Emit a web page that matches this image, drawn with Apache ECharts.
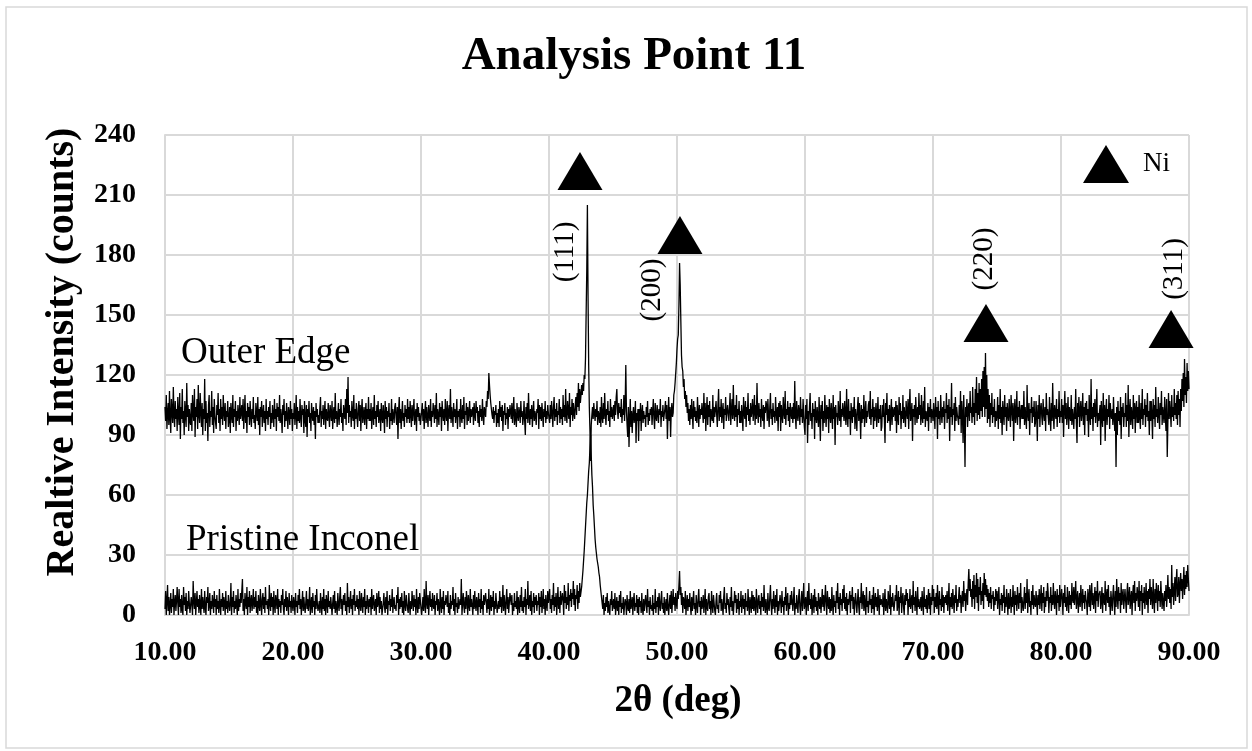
<!DOCTYPE html>
<html>
<head>
<meta charset="utf-8">
<script src="https://cdn.jsdelivr.net/npm/echarts@6/dist/echarts.min.js"></script>
<style>html,body{margin:0;padding:0;background:#fff}#chart{width:1252px;height:751px}</style>
</head>
<body>
<div id="chart"></div>
<script>
// 2θ sampling grid (deg)
const startDeg = 10;
const stepDeg = 0.05;
const xTicks = [10, 20, 30, 40, 50, 60, 70, 80, 90];
const yTicks = [0, 30, 60, 90, 120, 150, 180, 210, 240];

// Outer Edge intensity, one row per degree (x.00, x.05 ... x.95)
const outerEdge = [
104,97,110,93,101,106,95,112,99,91,108,102,96,114,100,94,107,98,103,92,
109,100,95,111,88,104,98,113,96,102,90,107,101,94,116,99,105,92,103,97,
95,106,92,110,101,97,113,89,104,99,108,93,115,100,96,111,102,94,106,90,
103,98,118,92,107,96,101,87,105,110,94,102,99,112,95,104,91,108,100,96,
93,105,100,111,96,103,92,108,98,104,95,110,101,97,106,93,102,99,107,94,
98,104,91,106,100,96,110,94,103,99,107,92,102,97,105,100,95,109,98,101,
105,97,108,93,101,110,96,102,91,106,99,104,95,107,100,94,103,98,109,96,
100,93,106,101,97,109,95,103,90,104,99,107,94,101,105,96,102,92,108,98,
102,95,104,99,107,93,101,96,105,100,94,108,98,103,92,106,99,104,97,110,
96,103,99,91,105,100,108,94,102,97,106,99,93,104,101,95,107,98,103,92,
101,98,106,95,100,110,93,104,97,102,96,108,99,94,105,100,103,91,107,98,
94,105,89,103,99,107,96,101,92,106,100,97,104,95,102,88,106,99,103,96,
100,96,104,109,94,102,98,105,95,101,107,93,103,99,97,106,100,94,105,101,
97,107,93,101,104,96,111,98,102,94,100,106,95,103,99,108,96,101,92,105,
104,98,108,95,113,101,119,96,105,99,102,94,107,100,97,110,93,103,98,106,
99,94,103,107,97,105,92,102,108,96,100,104,95,101,106,93,103,98,109,97,
103,97,106,93,101,104,95,110,98,102,94,105,99,107,96,100,103,92,106,99,
96,105,100,91,107,98,104,94,102,99,106,93,101,97,108,95,103,100,96,104,
106,99,95,104,88,102,109,96,103,93,100,107,97,101,94,105,99,103,96,108,
98,104,96,107,101,94,105,97,102,108,95,100,103,92,106,99,104,97,101,95,
95,102,106,97,103,93,101,107,96,104,99,94,105,100,97,108,94,102,99,106,
102,96,105,98,111,94,103,100,95,106,99,104,92,107,101,97,103,95,108,100,
97,107,92,102,105,98,113,96,104,100,94,106,99,103,96,101,108,93,102,99,
103,94,108,99,96,105,98,109,93,102,100,106,95,104,97,101,107,96,103,99,
98,104,95,106,100,97,107,101,104,96,102,94,105,99,103,97,108,100,95,104,
103,99,107,104,112,108,121,115,110,106,105,100,98,104,96,102,100,105,94,101,
96,103,94,107,99,104,97,105,92,102,100,106,95,101,98,104,93,103,99,105,
104,98,106,96,102,109,95,103,99,94,106,100,97,104,101,96,107,99,102,95,
99,107,97,90,104,98,106,96,111,100,95,103,98,105,94,101,107,97,102,100,
95,103,101,108,93,105,98,104,97,106,100,94,103,99,107,96,102,98,105,101,
100,96,105,98,107,101,94,104,109,97,103,99,106,95,102,100,108,96,104,98,
103,95,110,99,105,97,113,100,96,107,102,98,111,94,104,100,108,97,106,101,
98,105,109,100,111,104,116,102,113,106,110,115,110,116,112,120,118,128,150,172,
205,160,125,104,92,77,95,100,104,98,106,101,97,103,99,107,95,102,100,96,
104,94,109,99,96,106,98,111,101,95,103,100,107,97,102,94,108,99,104,98,
99,105,97,107,100,109,113,102,98,106,101,104,99,108,96,103,100,110,97,105,
125,102,95,89,104,84,98,108,94,102,91,100,104,96,99,107,86,101,97,103,
87,103,97,106,92,101,105,96,102,98,100,94,104,99,107,95,101,97,103,100,
104,95,102,108,98,93,106,99,97,105,101,96,103,100,108,94,102,99,105,97,
96,103,107,98,105,88,100,109,97,104,89,102,106,99,101,110,112,116,121,126,
133,138,140,155,176,165,147,130,124,122,114,118,108,112,104,110,101,106,97,103,
95,105,98,108,100,93,107,99,104,97,102,96,109,101,94,105,98,103,100,106,
101,96,111,98,106,92,102,109,95,105,99,107,94,103,100,97,110,96,104,99,
98,107,100,94,105,113,97,104,99,108,96,102,106,93,103,100,109,97,101,105,
106,97,104,111,95,102,108,98,115,101,97,105,99,110,94,103,100,107,96,102,
96,105,99,92,109,101,98,107,94,104,100,111,97,103,95,106,99,102,108,97,
102,110,95,105,98,116,101,96,106,99,103,94,108,100,97,105,93,104,101,107,
105,97,108,100,94,104,111,98,103,95,106,99,102,96,109,101,97,104,92,106,
99,107,92,105,100,96,109,101,98,112,95,103,100,107,97,104,94,106,101,98,
104,96,106,98,117,99,93,107,100,97,105,102,95,109,99,103,96,108,100,94,
90,105,98,108,86,102,95,104,111,97,101,93,106,99,103,88,107,100,96,104,
103,94,109,99,87,105,98,107,92,102,96,110,100,94,105,98,104,91,108,101,
96,106,100,93,110,98,104,85,105,99,101,95,107,100,97,112,94,103,99,106,
105,97,107,100,95,113,99,94,108,98,102,90,106,101,96,104,99,109,93,103,
99,92,104,109,97,106,100,88,105,96,103,98,110,94,101,107,96,102,99,105,
107,98,112,95,103,99,108,93,104,97,101,106,94,100,109,96,103,98,105,92,
94,105,99,108,98,86,106,100,111,96,103,97,105,92,101,108,95,104,99,102,
104,97,107,91,105,99,95,109,100,106,93,102,98,110,96,104,100,94,107,101,
98,108,93,104,113,97,100,106,87,103,99,105,95,109,101,96,104,98,111,100,
105,95,110,99,96,107,98,114,94,102,100,97,106,92,104,99,108,96,103,101,
97,106,100,93,109,99,104,88,107,98,102,95,110,101,96,104,99,107,93,103,
101,111,96,105,98,108,87,104,99,116,95,103,100,106,92,109,97,104,100,98,
95,105,98,112,91,107,100,86,110,97,74,104,99,108,94,103,106,97,112,101,
104,96,114,99,106,95,113,101,119,97,111,100,116,98,113,102,118,99,122,104,
124,99,131,103,120,96,113,98,110,94,106,100,111,96,104,99,108,94,102,97,
100,109,93,105,98,113,96,104,90,107,101,95,110,99,104,92,106,100,97,108,
101,94,110,103,97,106,87,102,108,96,100,112,95,104,99,107,93,101,105,98,
105,98,112,95,104,99,93,115,100,97,106,90,103,101,109,96,104,99,107,94,
96,107,100,87,105,98,110,94,103,106,99,95,108,101,97,104,92,111,100,103,
104,95,109,99,92,106,97,116,100,93,105,101,98,108,94,103,99,112,96,102,
99,108,96,105,89,103,112,98,106,95,101,109,93,104,100,97,110,95,103,99,
93,104,98,113,96,86,106,99,109,94,102,107,97,101,111,95,104,90,106,100,
107,97,103,89,110,100,95,118,98,104,92,106,99,108,96,102,113,94,101,97,
96,105,85,107,99,94,111,97,105,87,102,108,95,103,99,110,93,106,100,98,
103,95,109,99,92,101,74,104,90,107,97,102,95,109,88,104,99,106,94,101,
99,111,94,105,97,115,89,102,108,95,104,100,93,110,98,106,91,103,107,96,
104,96,110,99,93,106,98,113,95,103,100,108,94,105,99,111,97,102,90,107,
97,107,100,88,108,98,105,94,114,99,103,96,109,101,93,106,100,112,95,104,
105,96,109,100,92,108,79,96,111,98,107,101,94,110,99,104,97,113,100,106,
98,110,95,112,100,108,94,113,102,118,107,121,104,128,110,119,106,126,112,122,
113
];

// Pristine Inconel intensity, one row per degree (x.00, x.05 ... x.95)
const pristineInconel = [
3,12,0,7,15,2,9,0,5,11,1,8,4,13,0,6,10,2,7,14,
6,0,13,4,8,1,10,3,0,14,5,9,2,11,0,7,3,12,6,1,
2,9,5,0,17,7,3,11,0,6,12,4,8,1,10,5,0,13,3,9,
8,1,12,4,0,9,6,14,2,5,11,0,7,3,10,6,1,12,4,8,
0,10,3,7,1,13,5,0,8,4,11,2,9,6,0,12,3,7,1,10,
11,2,6,16,0,9,4,12,1,7,3,10,5,0,13,2,8,4,11,6,
5,18,2,8,0,11,6,3,14,0,9,4,12,1,7,10,2,6,13,3,
9,4,12,1,7,0,10,5,2,13,6,0,8,11,3,9,1,14,5,7,
3,8,0,15,6,2,11,4,9,0,12,5,1,10,7,3,13,0,8,4,
7,1,10,5,13,3,0,8,4,12,2,9,6,0,11,4,7,1,10,5,
2,9,6,0,11,4,7,1,10,5,13,3,8,0,6,12,2,9,4,1,
0,12,3,8,2,6,14,0,5,9,1,11,4,7,0,10,3,13,6,2,
4,7,1,11,5,0,9,3,13,2,8,0,10,6,1,12,4,7,3,9,
8,0,6,10,3,12,1,7,4,0,11,5,2,9,14,3,8,0,6,10,
5,11,2,7,0,16,4,9,1,6,12,3,8,0,10,5,13,2,7,4,
10,3,8,0,12,5,2,11,6,1,9,4,13,0,7,3,10,6,1,8,
4,9,0,13,3,7,10,2,5,8,0,11,4,6,12,1,9,3,7,0,
0,6,11,4,1,9,3,12,0,7,5,10,2,8,4,13,1,6,9,3,
5,2,10,6,14,0,8,3,9,4,11,1,7,0,12,5,2,10,6,3,
1,11,5,0,7,3,12,6,2,10,4,8,0,13,5,1,9,3,11,7,
8,0,4,9,2,13,5,1,17,6,3,10,0,7,12,4,8,2,11,5,
3,10,0,7,5,11,2,8,4,0,13,6,1,9,3,12,0,7,5,10,
9,4,12,1,6,0,10,3,7,5,14,2,8,0,11,4,6,1,9,3,
2,8,5,18,0,6,11,4,1,9,3,12,7,0,10,5,2,13,4,8,
7,0,10,3,12,5,2,9,6,0,11,4,8,1,13,3,7,0,10,5,
4,11,6,1,8,3,13,0,5,10,2,9,4,12,0,7,3,11,6,1,
0,7,3,12,4,9,1,6,15,2,10,5,0,8,13,3,9,1,6,11,
8,5,10,0,6,2,11,4,7,3,12,0,9,5,1,10,4,14,2,7,
1,9,4,13,0,8,5,17,3,6,10,2,12,0,7,4,11,1,9,5,
10,2,7,5,11,0,9,4,12,1,6,13,3,8,0,10,5,2,12,6,
6,13,3,8,1,10,5,16,2,9,4,11,0,7,14,3,9,1,12,5,
4,11,7,0,15,6,12,3,9,5,16,2,10,7,13,4,11,8,17,5,
13,2,10,8,15,3,12,6,16,9,10,14,18,22,27,32,38,44,50,56,
60,66,72,76,84,90,80,70,64,55,50,44,38,34,31,28,26,24,21,19,
15,12,9,6,3,10,0,6,2,9,4,11,1,7,3,0,8,5,12,2,
1,8,3,11,0,5,9,2,7,0,10,4,12,1,6,3,9,0,5,8,
6,0,10,4,2,8,1,12,3,5,9,0,7,11,2,6,4,10,1,8,
0,9,4,7,1,11,3,0,8,2,6,10,5,1,13,4,7,0,9,3,
5,2,10,0,6,3,13,1,7,4,9,0,11,5,2,8,12,3,6,1,
9,0,5,8,2,11,4,0,6,10,3,12,1,7,13,5,9,2,11,6,
3,12,8,15,22,10,14,5,11,1,9,7,3,12,0,6,10,2,8,4,
11,4,0,9,2,7,12,3,6,0,10,5,1,8,13,4,7,0,9,3,
5,10,1,6,13,0,8,4,2,9,11,3,7,0,12,5,1,10,6,2,
0,7,11,3,5,1,10,6,12,2,8,4,0,9,14,3,6,1,11,5,
8,3,0,9,4,14,2,7,0,5,12,6,10,1,8,3,11,0,7,4,
12,1,6,10,3,8,0,11,4,7,2,13,5,0,9,6,1,12,3,10,
2,9,5,0,13,6,1,8,10,3,7,0,11,4,9,2,15,5,1,8,
7,0,11,4,2,9,15,5,0,8,3,12,6,1,10,4,13,0,7,2,
3,10,6,1,12,4,7,0,9,5,14,2,8,11,0,6,3,10,5,12,
11,2,8,14,0,6,3,10,5,1,9,13,4,0,7,12,2,8,16,3,
4,9,0,7,12,2,16,5,8,3,11,0,6,10,1,13,4,9,2,7,
0,11,6,3,9,1,7,13,4,10,2,8,15,5,0,12,6,3,9,1,
8,2,14,5,0,10,4,7,1,12,6,16,3,9,0,11,5,8,2,13,
6,15,3,9,2,11,0,8,5,4,12,1,10,7,14,3,9,0,6,11,
10,1,7,13,4,0,9,6,16,3,8,12,2,10,5,0,14,4,7,1,
2,12,5,8,1,10,3,14,0,7,11,4,9,2,13,6,0,10,5,8,
9,4,11,0,6,13,2,8,5,1,12,7,3,15,0,9,4,11,6,2,
3,10,7,15,2,5,12,0,9,6,14,1,8,11,4,0,10,5,13,7,
11,0,8,4,13,3,7,10,1,17,5,9,2,12,6,0,14,4,8,3,
5,9,2,12,6,0,14,4,8,3,10,1,7,13,3,11,0,9,5,15,
7,13,1,9,4,11,3,15,6,0,12,5,8,2,14,4,10,1,9,6,
10,5,12,2,8,16,0,9,4,11,3,13,7,1,10,6,15,2,8,4,
3,14,6,10,1,8,12,4,17,7,11,2,9,13,5,16,23,12,18,9,
13,4,17,8,20,3,15,9,21,6,18,2,14,10,19,5,12,7,16,3,
21,10,18,9,15,7,13,4,11,6,14,3,10,8,12,2,9,5,13,7,
12,3,9,14,0,8,5,11,2,10,6,15,1,9,4,13,7,0,11,3,
6,13,1,9,4,15,7,0,12,5,10,2,14,8,3,11,6,16,1,9,
10,2,8,14,3,11,6,18,1,9,13,4,7,0,12,5,15,3,10,6,
4,12,7,0,10,5,13,3,8,15,2,11,6,14,1,9,4,12,7,16,
11,1,9,6,14,2,10,5,16,7,3,12,8,0,13,6,10,2,15,4,
3,13,8,0,11,6,15,4,9,2,14,7,1,12,5,10,3,16,8,6,
14,5,10,17,3,8,12,1,7,11,4,15,9,2,13,6,10,3,12,8,
6,0,13,9,4,15,2,10,16,5,11,3,8,14,1,12,7,17,4,10,
9,12,3,7,14,1,11,8,5,17,2,10,13,6,15,4,9,0,12,7,
2,10,15,6,0,12,4,18,9,3,14,7,11,1,16,5,10,13,3,8,
13,7,1,11,16,5,9,14,3,8,12,0,10,15,6,17,2,11,7,14,
10,4,17,2,12,7,15,0,11,6,14,3,9,16,5,12,1,13,8,18,
5,14,9,3,18,8,1,13,6,16,10,2,15,7,12,4,17,9,3,11,
11,2,12,7,15,4,10,20,8,14,6,13,3,25,9,16,5,12,19,7,
17,23,9,11,19,6,15,21,12,18,8,16,24,10,20,13,22,14,25,18,
12
];

// Ni peak markers [2θ, intensity position]
const niMarkers = [[42.42, 222], [50.23, 190], [74.14, 146], [88.6, 143]];
const peakLabels = ['(111)', '(200)', '(220)', '(311)'];

const serif = "'Liberation Serif','Times New Roman',serif";
const toPairs = arr => arr.map((v, i) => [+(startDeg + i * stepDeg).toFixed(2), v]);

const chart = echarts.init(document.getElementById('chart'), null, {renderer: 'canvas'});
const grey = '#d9d9d9';

function label(text, x, y, size, opts) {
  opts = opts || {};
  const el = {
    type: 'text', x: x, y: y, z: 100, silent: true,
    style: {text: text, fill: '#000', font: (opts.bold ? 'bold ' : '') + size + 'px ' + serif,
      textAlign: opts.align || 'center', textVerticalAlign: 'middle'}
  };
  if (opts.rot) el.rotation = Math.PI / 2;
  return el;
}

chart.setOption({
  animation: false,
  backgroundColor: '#fff',
  title: {
    text: 'Analysis Point 11', left: 629, top: 28, textAlign: 'center',
    textStyle: {fontFamily: serif, fontWeight: 'bold', fontSize: 47, color: '#000'}
  },
  legend: {
    data: [{name: 'Ni', icon: 'triangle'}],
    left: 1078, top: 140, itemWidth: 46, itemHeight: 38, selectedMode: false,
    itemStyle: {color: '#000', opacity: 1},
    textStyle: {fontFamily: serif, fontSize: 27, color: '#000', padding: [10, 0, 0, 9]}
  },
  grid: {left: 165, right: 63, top: 135, bottom: 136, containLabel: false},
  xAxis: {
    type: 'value', min: xTicks[0], max: xTicks[xTicks.length - 1], interval: 10,
    axisLine: {show: true, lineStyle: {color: grey, width: 2}},
    axisTick: {show: false},
    splitLine: {show: true, lineStyle: {color: grey, width: 2}},
    axisLabel: {formatter: v => v.toFixed(2), fontFamily: serif, fontWeight: 'bold', fontSize: 28, color: '#000', margin: 24}
  },
  yAxis: {
    type: 'value', min: yTicks[0], max: yTicks[yTicks.length - 1], interval: 30,
    axisLine: {show: true, lineStyle: {color: grey, width: 2}},
    axisTick: {show: false},
    splitLine: {show: true, lineStyle: {color: grey, width: 2}},
    axisLabel: {fontFamily: serif, fontWeight: 'bold', fontSize: 28, color: '#000', margin: 29}
  },
  series: [
    {name: 'Outer Edge', type: 'line', data: toPairs(outerEdge), showSymbol: false, symbol: 'none',
      sampling: 'none', lineStyle: {color: '#000', width: 1.3}, z: 3},
    {name: 'Pristine Inconel', type: 'line', data: toPairs(pristineInconel), showSymbol: false, symbol: 'none',
      sampling: 'none', lineStyle: {color: '#000', width: 1.3}, z: 3},
    {name: 'Ni', type: 'scatter', data: niMarkers, symbol: 'triangle', symbolSize: [45, 38],
      itemStyle: {color: '#000', opacity: 1}, z: 5}
  ],
  graphic: [
    {type: 'rect', silent: true, z: 100, shape: {x: 6, y: 7, width: 1241, height: 741},
      style: {fill: 'none', stroke: grey, lineWidth: 1.5}},
    label('Realtive Intensity (counts)', 63, 352, 40, {bold: true, rot: true}),
    label('2θ (deg)', 678, 701, 37, {bold: true}),
    label('Outer Edge', 181, 353, 37, {align: 'left'}),
    label('Pristine Inconel', 186, 540, 37, {align: 'left'}),
    label(peakLabels[0], 565, 252, 29, {rot: true}),
    label(peakLabels[1], 652, 290, 29, {rot: true}),
    label(peakLabels[2], 984, 259, 29, {rot: true}),
    label(peakLabels[3], 1174, 269, 29, {rot: true})
  ]
});
</script>
</body>
</html>
